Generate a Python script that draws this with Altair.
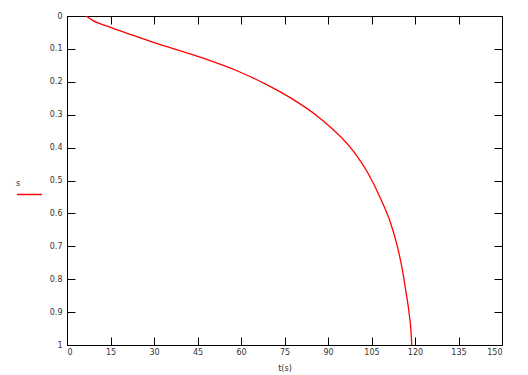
import altair as alt
import pandas as pd

# curve (t in seconds on x, s on reversed y)
t_values = [6.5, 9.0, 14.8, 29.8, 44.8, 59.8, 68.5, 77.1, 87.4, 99.0,
            103.6, 108.2, 111.7, 114.0, 115.7, 116.8, 118.0, 118.6, 118.9]
s_values = [0.0, 0.014, 0.034, 0.080, 0.122, 0.171, 0.207, 0.249, 0.312, 0.414,
            0.475, 0.556, 0.632, 0.703, 0.774, 0.834, 0.905, 0.956, 1.0]
series_name = ["s"]

x_ticks = [0, 15, 30, 45, 60, 75, 90, 105, 120, 135, 150]
y_ticks = [0, 0.1, 0.2, 0.3, 0.4, 0.5, 0.6, 0.7, 0.8, 0.9, 1.0]

W, H = 435, 329
FONT = "DejaVu Sans"

df = pd.DataFrame({"t": t_values, "s": s_values, "series": series_name * len(t_values)})

xs = alt.Scale(domain=[0, 150], nice=False, zero=False)
ys = alt.Scale(domain=[0, 1], reverse=True, nice=False, zero=False)

base = alt.Chart(df)

line = base.mark_line(strokeWidth=1.3, clip=True, interpolate="monotone").encode(
    x=alt.X("t:Q", scale=xs, axis=alt.Axis(
        values=x_ticks, orient="bottom", ticks=False, domain=False, grid=False,
        title="t(s)", labelPadding=3, titlePadding=8,
        labelFont=FONT, labelFontSize=8, labelColor="#333",
        titleFont=FONT, titleFontSize=8, titleFontWeight="normal", titleColor="#333")),
    y=alt.Y("s:Q", scale=ys, axis=alt.Axis(
        values=y_ticks, format=".1~f", orient="left", ticks=False, domain=False,
        grid=False, title=None, labelPadding=5,
        labelFont=FONT, labelFontSize=8, labelColor="#333")),
    color=alt.Color("series:N", scale=alt.Scale(domain=series_name, range=["#ff0000"]),
                    legend=alt.Legend(
                        orient="none", legendX=-51, legendY=164, title="s",
                        titleFont=FONT, titleFontSize=8, titleFontWeight="normal",
                        titleColor="#333", titlePadding=-7, labelExpr="''",
                        symbolType="stroke", symbolSize=625, symbolStrokeWidth=1.5,
                        padding=0)),
    order="s:Q",
)

ticks_a = base.mark_point(opacity=0).encode(
    x=alt.X("t:Q", scale=xs, axis=alt.Axis(
        values=x_ticks, orient="top", offset=-H, labels=False, domain=False,
        grid=False, title=None, tickSize=8, tickColor="black", tickWidth=1)),
    y=alt.Y("s:Q", scale=ys, axis=alt.Axis(
        values=y_ticks, orient="right", offset=-W, labels=False, domain=False,
        grid=False, title=None, tickSize=8, tickColor="black", tickWidth=1)),
)

ticks_b = base.mark_point(opacity=0).encode(
    x=alt.X("t:Q", scale=xs, axis=alt.Axis(
        values=x_ticks, orient="bottom", offset=-H, labels=False, domain=False,
        grid=False, title=None, tickSize=8, tickColor="black", tickWidth=1)),
    y=alt.Y("s:Q", scale=ys, axis=alt.Axis(
        values=y_ticks, orient="left", offset=-W, labels=False, domain=False,
        grid=False, title=None, tickSize=8, tickColor="black", tickWidth=1)),
)

chart = alt.layer(line, ticks_a, ticks_b).resolve_axis(
    x="independent", y="independent"
).properties(
    width=W, height=H,
    autosize=alt.AutoSizeParams(type="none"),
    padding={"left": 59, "top": 8, "right": 18, "bottom": 29},
).configure_view(stroke="black", strokeWidth=1)

chart.save("out.html", embed_options={"renderer": "svg", "actions": False})
